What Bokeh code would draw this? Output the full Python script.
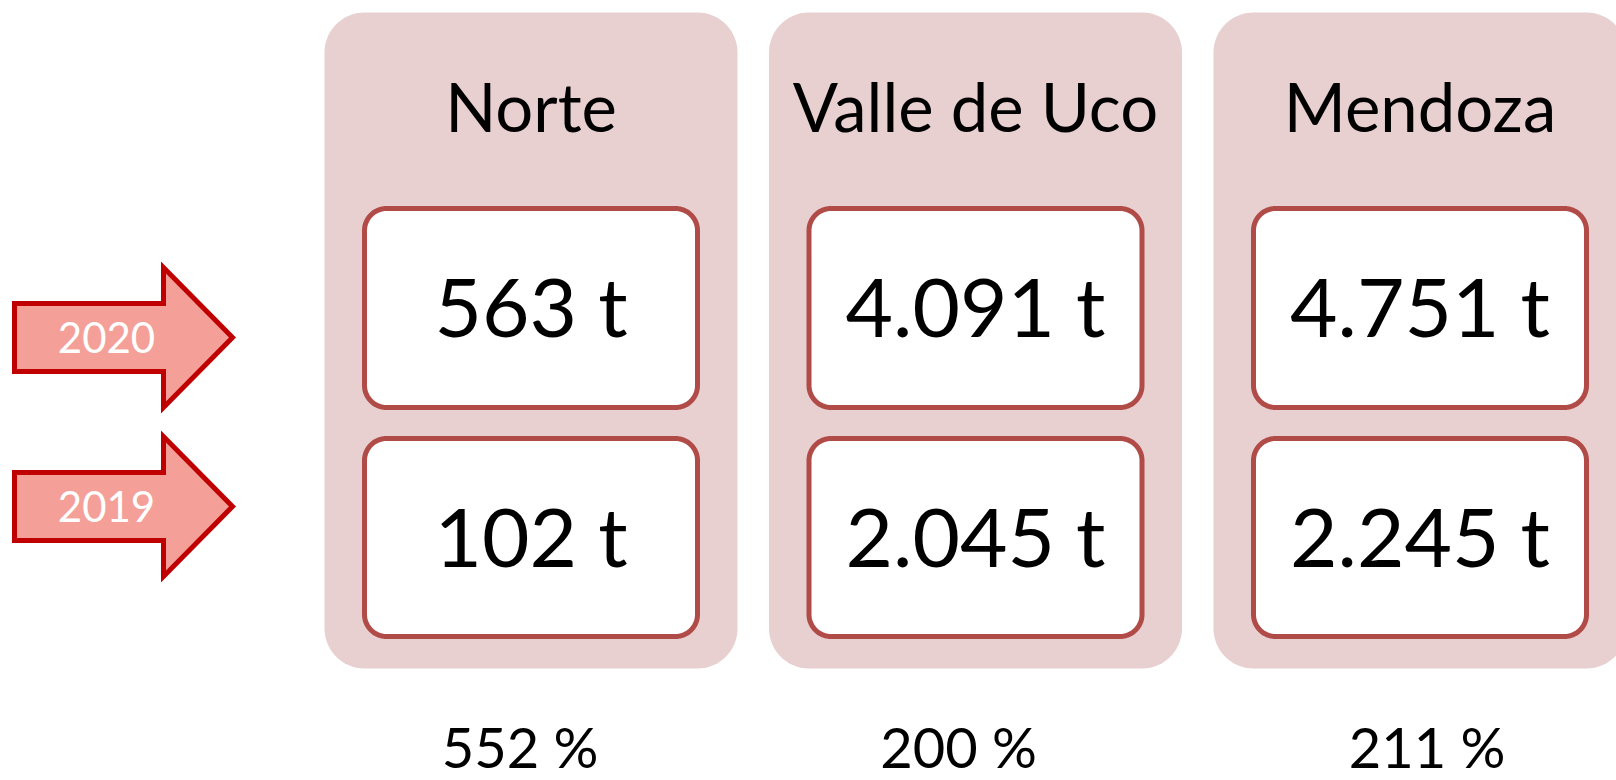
import numpy as np
from bokeh.plotting import figure
from bokeh.models import Range1d
from bokeh.core.properties import value
from bokeh.embed import file_html
from bokeh.resources import INLINE

# ---- data ----
regions = ["Norte", "Valle de Uco", "Mendoza"]
toneladas_2020 = [563, 4091, 4751]
toneladas_2019 = [102, 2045, 2245]
variacion = ["552 %", "200 %", "211 %"]
years = ["2020", "2019"]

# ---- layout (screen pixel coordinates) ----
FONT = value("Lato")
W, H = 1616, 780
PANEL_LEFT0, PANEL_PITCH, PANEL_W = 324, 444.5, 413
PANEL_TOP, PANEL_BOT, PANEL_R = 12, 668, 40
BOX_INSET, BOX_W, BOX_R = 40, 333, 22
BOX_ROWS = [(208, 407), (438, 636)]
TITLE_Y = 105
PCT_Y = 746
PCT_SHIFT = [-11, -17, 7]
ARROW_CY = [337, 506]
ARROW_X0, ARROW_XH, ARROW_XT = 14, 163, 232
ARROW_BODY_H, ARROW_HEAD_H = 34, 70

PANEL_FILL = "#E8CFD0"
BOX_LINE = "#B04B48"
ARROW_FILL = "#F4A099"
ARROW_LINE = "#C00000"


def rrect(x0, y0, x1, y1, r, n=16):
    xs, ys = [], []
    corners = [
        (x1 - r, y0 + r, -np.pi / 2, 0),
        (x1 - r, y1 - r, 0, np.pi / 2),
        (x0 + r, y1 - r, np.pi / 2, np.pi),
        (x0 + r, y0 + r, np.pi, 1.5 * np.pi),
    ]
    for cx, cy, a0, a1 in corners:
        t = np.linspace(a0, a1, n)
        xs.extend(cx + r * np.cos(t))
        ys.extend(cy + r * np.sin(t))
    return xs, ys


def fmt(v):
    return f"{v:,}".replace(",", ".") + " t"


p = figure(width=W, height=H, output_backend="svg", toolbar_location=None,
           x_range=Range1d(0, W), y_range=Range1d(H, 0), min_border=0)
p.axis.visible = False
p.grid.visible = False
p.outline_line_color = None
p.background_fill_color = "white"
p.border_fill_color = "white"

n = len(regions)
px0 = [PANEL_LEFT0 + i * PANEL_PITCH for i in range(n)]
pcx = [x + PANEL_W / 2 for x in px0]

# panels
pxs, pys = [], []
for x0 in px0:
    xs, ys = rrect(x0, PANEL_TOP, x0 + PANEL_W, PANEL_BOT, PANEL_R)
    pxs.append(xs); pys.append(ys)
p.patches(pxs, pys, fill_color=PANEL_FILL, line_color=None)

# inner boxes
bxs, bys = [], []
for x0 in px0:
    for (y0, y1) in BOX_ROWS:
        xs, ys = rrect(x0 + BOX_INSET, y0, x0 + BOX_INSET + BOX_W, y1, BOX_R)
        bxs.append(xs); bys.append(ys)
p.patches(bxs, bys, fill_color="white", line_color=BOX_LINE, line_width=5)

# titles
p.text(x=pcx, y=[TITLE_Y] * n, text=regions, text_font=FONT,
       text_font_size="67px", text_align="center", text_baseline="middle",
       text_color="black")

# values
for row, vals in enumerate([toneladas_2020, toneladas_2019]):
    y0, y1 = BOX_ROWS[row]
    yc = (y0 + y1) / 2 - 3
    p.text(x=pcx, y=[yc] * n, text=[fmt(v) for v in vals], text_font=FONT,
           text_font_size="82px", text_align="center", text_baseline="middle",
           text_color="black")

# percentages
p.text(x=[c + s for c, s in zip(pcx, PCT_SHIFT)], y=[PCT_Y] * n, text=variacion,
       text_font=FONT, text_font_size="56px", text_align="center",
       text_baseline="middle", text_color="black")

# arrows
axs, ays = [], []
for cy in ARROW_CY:
    axs.append([ARROW_X0, ARROW_XH, ARROW_XH, ARROW_XT, ARROW_XH, ARROW_XH, ARROW_X0])
    ays.append([cy - ARROW_BODY_H, cy - ARROW_BODY_H, cy - ARROW_HEAD_H, cy,
                cy + ARROW_HEAD_H, cy + ARROW_BODY_H, cy + ARROW_BODY_H])
p.patches(axs, ays, fill_color=ARROW_FILL, line_color=ARROW_LINE, line_width=5,
          line_join="miter")
p.text(x=[106] * len(years), y=ARROW_CY, text=years, text_font=FONT,
       text_font_size="42px", text_align="center", text_baseline="middle",
       text_color="white")

open("out.html", "w").write(file_html(p, INLINE))
